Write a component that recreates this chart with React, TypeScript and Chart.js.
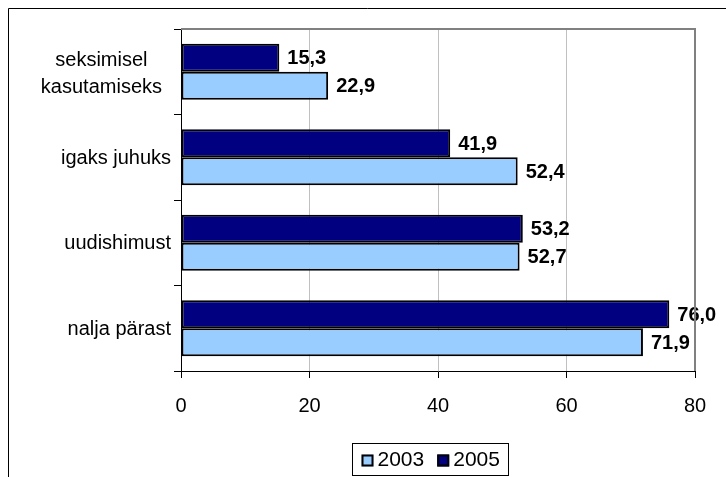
import React, { useEffect, useRef } from "react";
import { Chart, registerables } from "chart.js";

Chart.register(...registerables);

const categories: (string | string[])[] = [
  ["seksimisel", "kasutamiseks"],
  "igaks juhuks",
  "uudishimust",
  "nalja pärast",
];
const values2005 = [15.3, 41.9, 53.2, 76.0];
const values2003 = [22.9, 52.4, 52.7, 71.9];
const seriesLabels = ["2005", "2003"];
const xMin = 0;
const xMax = 80;
const xStep = 20;

const FONT = "'Liberation Sans', Arial, sans-serif";

const fmt = (v: number) => v.toFixed(1).replace(".", ",");

const decorPlugin = {
  id: "decor",
  beforeDraw(chart: any) {
    const ctx = chart.ctx;
    ctx.save();
    ctx.fillStyle = "#ffffff";
    ctx.fillRect(0, 0, chart.width, chart.height);
    ctx.strokeStyle = "#000000";
    ctx.lineWidth = 1;
    ctx.beginPath();
    ctx.moveTo(8.5, chart.height);
    ctx.lineTo(8.5, 8.5);
    ctx.lineTo(chart.width, 8.5);
    ctx.stroke();
    ctx.restore();
  },
  afterDatasetsDraw(chart: any) {
    const ctx = chart.ctx;
    ctx.save();
    ctx.font = `bold 20px ${FONT}`;
    ctx.fillStyle = "#000";
    ctx.textAlign = "left";
    ctx.textBaseline = "middle";
    chart.data.datasets.forEach((ds: any, di: number) => {
      const meta = chart.getDatasetMeta(di);
      meta.data.forEach((bar: any, i: number) => {
        ctx.fillText(fmt(ds.data[i]), bar.x + 8, bar.y + 1);
      });
    });
    ctx.restore();
  },
  afterDraw(chart: any) {
    const ctx = chart.ctx;
    const a = chart.chartArea;
    ctx.save();
    // gray plot borders (top and right)
    ctx.strokeStyle = "#808080";
    ctx.lineWidth = 2;
    ctx.beginPath();
    ctx.moveTo(a.left, a.top);
    ctx.lineTo(a.right, a.top);
    ctx.lineTo(a.right, a.bottom);
    ctx.stroke();

    // category labels
    const yScale = chart.scales.y;
    ctx.font = `20px ${FONT}`;
    ctx.fillStyle = "#000";
    ctx.textBaseline = "middle";
    (chart.data.labels as any[]).forEach((lab: any, i: number) => {
      const y = yScale.getPixelForValue(i) + 1;
      if (Array.isArray(lab)) {
        const lh = 27;
        const maxW = Math.max(...lab.map((s: string) => ctx.measureText(s).width));
        const cx = a.left - 19 - maxW / 2;
        ctx.textAlign = "center";
        lab.forEach((s: string, k: number) => {
          ctx.fillText(s, cx, y + 1 + (k - (lab.length - 1) / 2) * lh);
        });
      } else {
        ctx.textAlign = "right";
        ctx.fillText(lab, a.left - 10, y);
      }
    });

    // legend (2003 first)
    const items = chart.data.datasets
      .map((ds: any) => ({ label: ds.label, color: ds.backgroundColor }))
      .reverse();
    ctx.font = `21px ${FONT}`;
    const box = 12;
    const gapBoxText = 4;
    const gapItems = 13;
    const pad = 9;
    const widths = items.map((it: any) => box + gapBoxText + ctx.measureText(it.label).width);
    const total = widths.reduce((s: number, w: number) => s + w, 0) + gapItems * (items.length - 1);
    const lw = Math.round(total + pad * 2);
    const lx = Math.round((a.left + a.right) / 2 - 8 - lw / 2) + 0.5;
    const ly = 443.5;
    const lhgt = 32;
    ctx.strokeStyle = "#000";
    ctx.lineWidth = 1;
    ctx.strokeRect(lx, ly, lw, lhgt);
    let x = lx + pad;
    const cy = ly + lhgt / 2 + 1;
    items.forEach((it: any, k: number) => {
      ctx.fillStyle = it.color;
      ctx.fillRect(x, cy - box / 2, box, box);
      ctx.lineWidth = 2;
      ctx.strokeStyle = "#000";
      ctx.strokeRect(x + 1, cy - box / 2 + 1, box - 2, box - 2);
      ctx.fillStyle = "#000";
      ctx.textAlign = "left";
      ctx.textBaseline = "middle";
      ctx.fillText(it.label, x + box + gapBoxText, cy);
      x += widths[k] + gapItems;
    });
    ctx.restore();
  },
};

export default function App() {
  const ref = useRef<HTMLCanvasElement | null>(null);
  useEffect(() => {
    if (!ref.current) return;
    const chart = new Chart(ref.current, {
      type: "bar",
      data: {
        labels: categories as any,
        datasets: [
          {
            label: seriesLabels[0],
            data: values2005,
            backgroundColor: "#000080",
            borderColor: "#000000",
            borderWidth: 2,
            borderSkipped: false,
          },
          {
            label: seriesLabels[1],
            data: values2003,
            backgroundColor: "#99CCFF",
            borderColor: "#000000",
            borderWidth: 2,
            borderSkipped: false,
          },
        ],
      },
      options: {
        indexAxis: "y",
        responsive: false,
        animation: false,
        layout: { padding: { top: 29, right: 31, left: 0, bottom: 0 } },
        datasets: {
          bar: { categoryPercentage: 0.655, barPercentage: 1 },
        },
        plugins: {
          legend: { display: false },
          tooltip: { enabled: false },
          title: { display: false },
        },
        scales: {
          x: {
            type: "linear",
            position: "bottom",
            min: xMin,
            max: xMax,
            ticks: {
              stepSize: xStep,
              color: "#000",
              font: { family: FONT, size: 20 },
              padding: 16,
            },
            grid: {
              color: "#c0c0c0",
              lineWidth: 1,
              tickColor: "#000",
              tickLength: 7,
            },
            border: { color: "#000", width: 1 },
            afterFit: (s: any) => {
              s.height = 106;
            },
          },
          y: {
            type: "category",
            position: "left",
            ticks: { display: false },
            grid: {
              drawOnChartArea: false,
              offset: true,
              tickColor: "#000",
              color: "#000",
              tickLength: 7,
            },
            border: { color: "#000", width: 1 },
            afterFit: (s: any) => {
              s.width = 181;
            },
          },
        },
      },
      plugins: [decorPlugin],
    } as any);
    return () => chart.destroy();
  }, []);
  return (
    <div style={{ position: "absolute", left: 0, top: 0, width: 726, height: 477 }}>
      <canvas ref={ref} width={726} height={477} style={{ display: "block" }} />
    </div>
  );
}
